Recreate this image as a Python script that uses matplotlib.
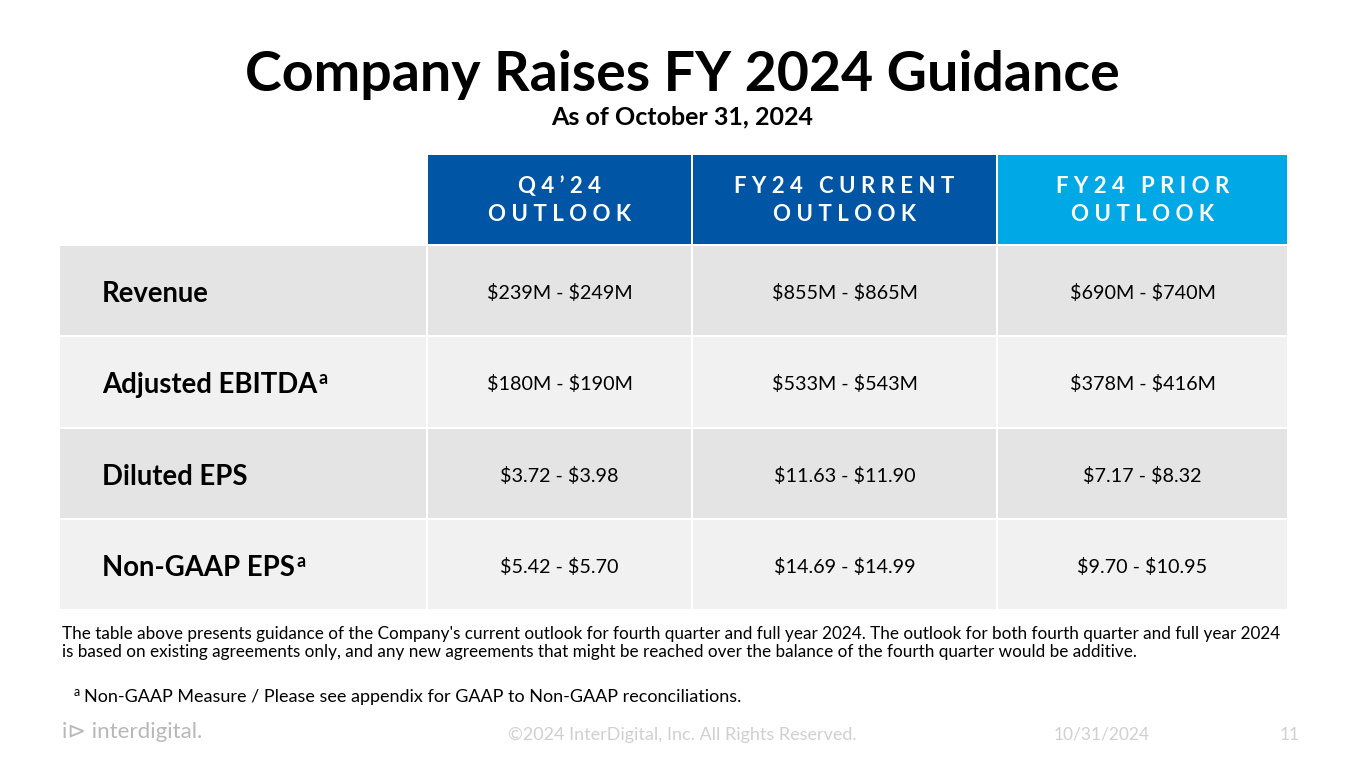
import matplotlib.pyplot as plt
from matplotlib.patches import Rectangle

plt.rcParams['font.family'] = ['Lato', 'DejaVu Sans']

title = "Company Raises FY 2024 Guidance"
subtitle = "As of October 31, 2024"
col_headers = ["Q4’24\nOUTLOOK", "FY24 CURRENT\nOUTLOOK", "FY24 PRIOR\nOUTLOOK"]
row_labels = ["Revenue", "Adjusted EBITDA", "Diluted EPS", "Non-GAAP EPS"]
row_marks = ["", "a", "", "a"]
values = [
    ["$239M - $249M", "$855M - $865M", "$690M - $740M"],
    ["$180M - $190M", "$533M - $543M", "$378M - $416M"],
    ["$3.72 - $3.98", "$11.63 - $11.90", "$7.17 - $8.32"],
    ["$5.42 - $5.70", "$14.69 - $14.99", "$9.70 - $10.95"],
]
note = ("The table above presents guidance of the Company's current outlook for fourth quarter and full year 2024. The outlook for both fourth quarter and full year 2024\n"
        "is based on existing agreements only, and any new agreements that might be reached over the balance of the fourth quarter would be additive.")
footnote = "Non-GAAP Measure / Please see appendix for GAAP to Non-GAAP reconciliations."
copyright_text = "©2024 InterDigital, Inc. All Rights Reserved."
date_text = "10/31/2024"
page_no = "11"

# layout (pixel coords)
col_edges = [60, 428, 693, 998, 1289]
head_top, head_bot = 155, 244
row_edges = [246, 337, 429, 520, 611]
head_colors = ["#0055A5", "#0055A5", "#00A8E6"]
row_colors = ["#E4E4E4", "#F1F1F1", "#E4E4E4", "#F1F1F1"]


def letter_space(txt):
    # wide tracking like the slide headers
    return "\n".join("   ".join(" ".join(word) for word in line.split(" "))
                     for line in txt.split("\n"))


fig = plt.figure(figsize=(13.65, 7.68), dpi=100)
ax = fig.add_axes([0, 0, 1, 1])
ax.set_xlim(0, 1365)
ax.set_ylim(768, 0)
ax.axis('off')

ax.text(682, 75, title, ha='center', va='center', fontsize=40, fontweight='bold', color='black')
ax.text(682, 117, subtitle, ha='center', va='center', fontsize=18, fontweight='bold', color='black')

gap = 2
for j, hdr in enumerate(col_headers):
    x0, x1 = col_edges[j + 1], col_edges[j + 2]
    ax.add_patch(Rectangle((x0, head_top), x1 - x0 - gap, head_bot - head_top,
                           facecolor=head_colors[j], edgecolor='none'))
    ax.text((x0 + x1 - gap) / 2, (head_top + head_bot) / 2 + 1, letter_space(hdr),
            ha='center', va='center', fontsize=16, fontweight='bold', color='white',
            linespacing=1.45)

for i, lab in enumerate(row_labels):
    y0, y1 = row_edges[i], row_edges[i + 1]
    yc = (y0 + y1) / 2
    for j in range(4):
        x0, x1 = col_edges[j], col_edges[j + 1]
        ax.add_patch(Rectangle((x0, y0), x1 - x0 - gap, y1 - y0 - gap,
                               facecolor=row_colors[i], edgecolor='none'))
    t = ax.text(102, yc, lab, ha='left', va='center_baseline', fontsize=19.8,
                fontweight='bold', color='black')
    if row_marks[i]:
        ax.annotate(row_marks[i], xy=(1, 0.75), xycoords=t, ha='left', va='center',
                    fontsize=13, fontweight='bold', color='black', xytext=(1, 0),
                    textcoords='offset points')
    for j, v in enumerate(values[i]):
        x0, x1 = col_edges[j + 1], col_edges[j + 2]
        ax.text((x0 + x1 - gap) / 2, yc, v, ha='center', va='center_baseline', fontsize=14.2,
                color='black', parse_math=False)

ax.text(62, 643, note, ha='left', va='center', fontsize=12.3, color='black', linespacing=1.2,
        parse_math=False)
ax.text(74, 692, "a", ha='left', va='center', fontsize=9, color='black')
ax.text(84, 697, footnote, ha='left', va='center', fontsize=13, color='black')

ax.text(62, 732, "i⊳ interdigital.", ha='left', va='center', fontsize=16, color='#B8B8B8')
ax.text(682, 735, copyright_text, ha='center', va='center', fontsize=13, color='#D0D0D0')
ax.text(1102, 735, date_text, ha='center', va='center', fontsize=12.5, color='#D0D0D0')
ax.text(1290, 735, page_no, ha='center', va='center', fontsize=12.5, color='#D0D0D0')

fig.savefig("out.png", dpi=100)
